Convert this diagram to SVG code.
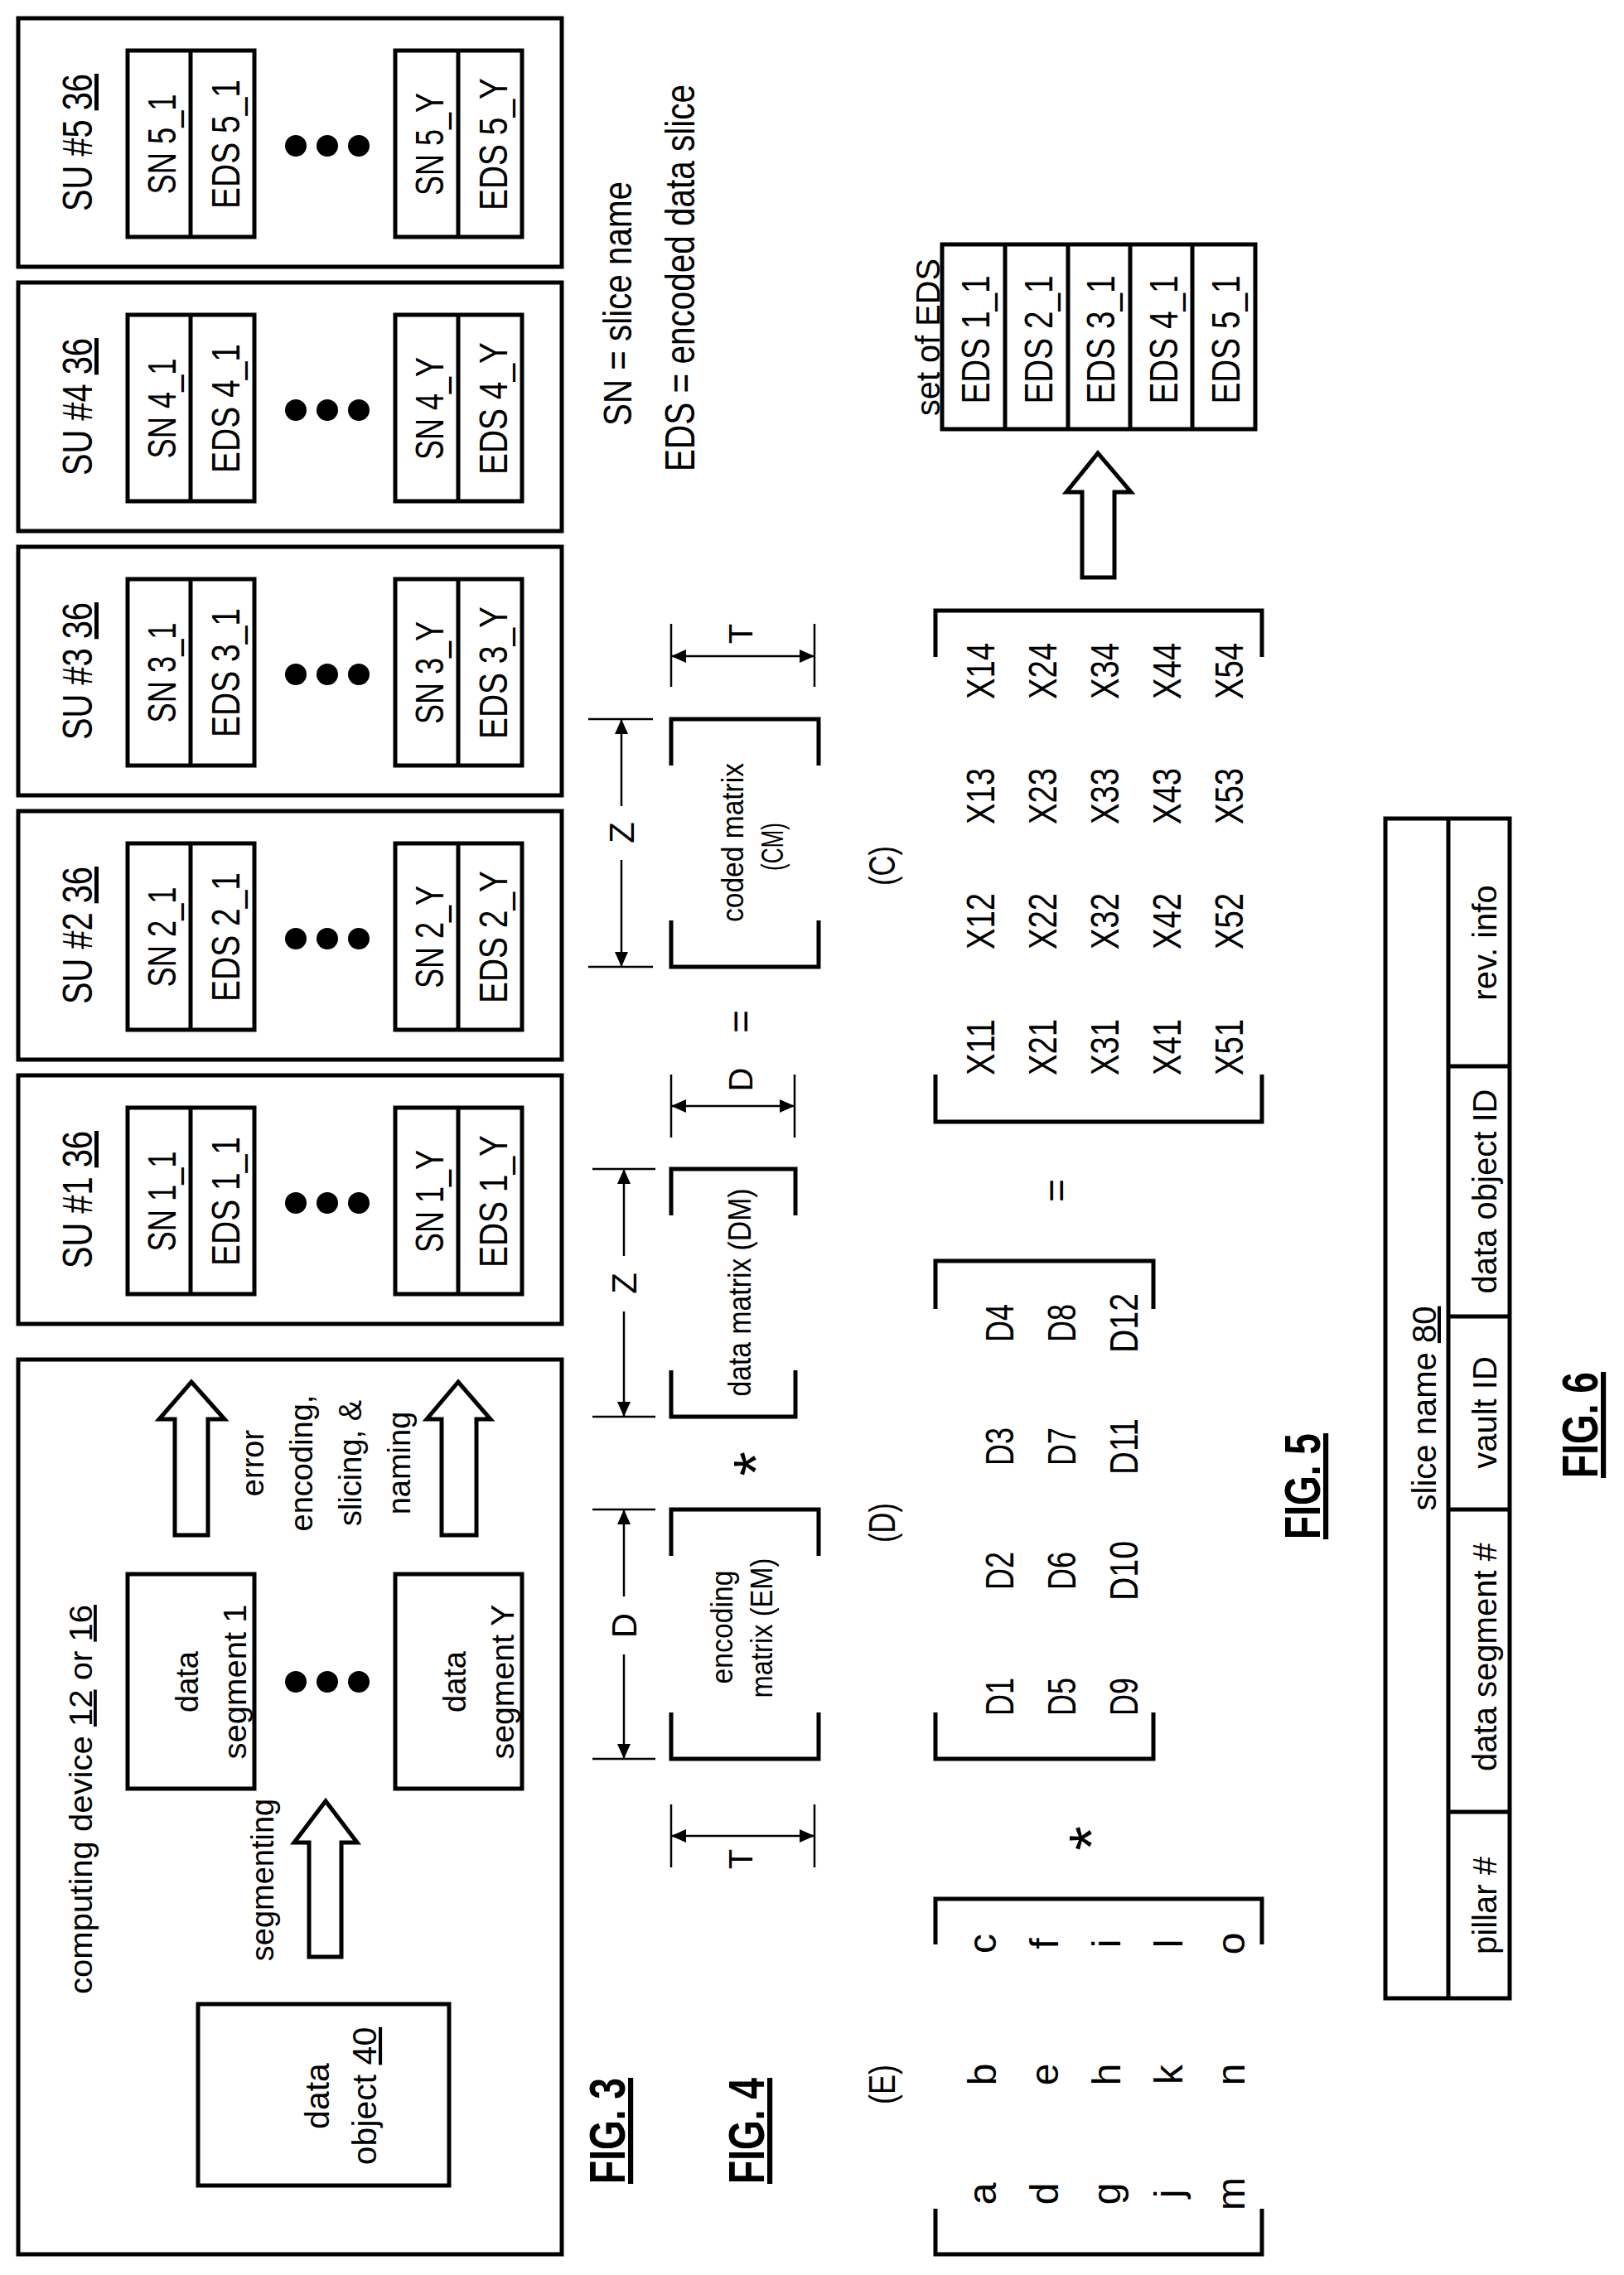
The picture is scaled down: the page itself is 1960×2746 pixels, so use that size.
<svg xmlns="http://www.w3.org/2000/svg" width="1960" height="2746" viewBox="0 0 1960 2746">
<style>
text{font-family:"Liberation Sans",Arial,sans-serif;fill:#000;text-anchor:middle}
.s{text-anchor:start}
.b{font-weight:bold}
.box{fill:#fff;stroke:#000;stroke-width:5}
.ln{fill:none;stroke:#000;stroke-width:5}
.dim{fill:none;stroke:#000;stroke-width:2.5}
.dot{fill:#000}
</style>
<defs>
<marker id="ah" markerUnits="userSpaceOnUse" markerWidth="20" markerHeight="16" refX="18" refY="8" orient="auto-start-reverse"><path d="M0,0 L18,8 L0,16 z" fill="#000"/></marker>
</defs>
<rect width="1960" height="2746" fill="#fff"/>

<!-- FIG 3 computing device -->
<g id="computing-device">
<rect class="box" x="22" y="1641" width="656" height="1080"/>
<text x="111" y="2172" font-size="38" transform="rotate(-90 111 2172)" textLength="470" lengthAdjust="spacingAndGlyphs">computing device <tspan text-decoration="underline">12</tspan> or <tspan text-decoration="underline">16</tspan></text>
</g>
<g id="data-object">
<rect class="box" x="239" y="2419" width="303" height="219"/>
<text x="397" y="2530" font-size="41" transform="rotate(-90 397 2530)">data</text>
<text x="454" y="2530" font-size="41" transform="rotate(-90 454 2530)">object <tspan text-decoration="underline">40</tspan></text>
</g>
<g id="data-segment-1">
<rect class="box" x="154" y="1900" width="153" height="259"/>
<text x="239" y="2030" font-size="38" transform="rotate(-90 239 2030)">data</text>
<text x="297" y="2030" font-size="38" transform="rotate(-90 297 2030)" textLength="187" lengthAdjust="spacingAndGlyphs">segment 1</text>
</g>
<g id="data-segment-Y">
<rect class="box" x="477" y="1900" width="153" height="259"/>
<text x="562" y="2030" font-size="38" transform="rotate(-90 562 2030)">data</text>
<text x="620" y="2030" font-size="38" transform="rotate(-90 620 2030)" textLength="187" lengthAdjust="spacingAndGlyphs">segment Y</text>
</g>
<g id="fig3-dots">
<circle class="dot" cx="357" cy="2030" r="13"/><circle class="dot" cx="395" cy="2030" r="13"/><circle class="dot" cx="433" cy="2030" r="13"/>
</g>
<g id="connectors">
<polygon class="box" points="373,2362 373,2224 355,2224 393,2174 431,2224 412,2224 412,2362"/>
<polygon class="box" points="211,1853 211,1713 192,1713 231,1668 271,1713 251,1713 251,1853"/>
<polygon class="box" points="533,1853 533,1713 515,1713 553,1668 592,1713 575,1713 575,1853"/>
<polygon class="box" points="1306,697 1306,594 1287,594 1325,547 1365,594 1345,594 1345,697"/>
</g>
<g id="labels-fig3">
<text x="330" y="2269" font-size="38" transform="rotate(-90 330 2269)">segmenting</text>
<text x="318" y="1766" font-size="38" transform="rotate(-90 318 1766)">error</text>
<text x="377" y="1766" font-size="38" transform="rotate(-90 377 1766)">encoding,</text>
<text x="436" y="1766" font-size="38" transform="rotate(-90 436 1766)">slicing, &amp;</text>
<text x="495" y="1766" font-size="38" transform="rotate(-90 495 1766)">naming</text>
</g>

<!-- SU boxes -->
<g id="su5">
<rect class="box" x="22" y="22" width="656" height="300"/>
<rect class="box" x="154" y="61" width="153" height="225"/><line class="ln" x1="230" y1="61" x2="230" y2="286"/>
<rect class="box" x="477" y="61" width="153" height="225"/><line class="ln" x1="553" y1="61" x2="553" y2="286"/>
<text x="111" y="172" font-size="50" transform="rotate(-90 111 172)" textLength="166" lengthAdjust="spacingAndGlyphs">SU #5 <tspan text-decoration="underline">36</tspan></text>
<text x="212" y="174" font-size="49" transform="rotate(-90 212 174)" textLength="121" lengthAdjust="spacingAndGlyphs">SN 5_1</text>
<text x="289" y="174" font-size="49" transform="rotate(-90 289 174)" textLength="156" lengthAdjust="spacingAndGlyphs">EDS 5_1</text>
<text x="535" y="174" font-size="49" transform="rotate(-90 535 174)" textLength="124" lengthAdjust="spacingAndGlyphs">SN 5_Y</text>
<text x="612" y="174" font-size="49" transform="rotate(-90 612 174)" textLength="160" lengthAdjust="spacingAndGlyphs">EDS 5_Y</text>
<circle class="dot" cx="357" cy="176" r="13"/><circle class="dot" cx="395" cy="176" r="13"/><circle class="dot" cx="433" cy="176" r="13"/>
</g>
<g id="su4">
<rect class="box" x="22" y="341" width="656" height="300"/>
<rect class="box" x="154" y="380" width="153" height="225"/><line class="ln" x1="230" y1="380" x2="230" y2="605"/>
<rect class="box" x="477" y="380" width="153" height="225"/><line class="ln" x1="553" y1="380" x2="553" y2="605"/>
<text x="111" y="491" font-size="50" transform="rotate(-90 111 491)" textLength="166" lengthAdjust="spacingAndGlyphs">SU #4 <tspan text-decoration="underline">36</tspan></text>
<text x="212" y="493" font-size="49" transform="rotate(-90 212 493)" textLength="121" lengthAdjust="spacingAndGlyphs">SN 4_1</text>
<text x="289" y="493" font-size="49" transform="rotate(-90 289 493)" textLength="156" lengthAdjust="spacingAndGlyphs">EDS 4_1</text>
<text x="535" y="493" font-size="49" transform="rotate(-90 535 493)" textLength="124" lengthAdjust="spacingAndGlyphs">SN 4_Y</text>
<text x="612" y="493" font-size="49" transform="rotate(-90 612 493)" textLength="160" lengthAdjust="spacingAndGlyphs">EDS 4_Y</text>
<circle class="dot" cx="357" cy="495" r="13"/><circle class="dot" cx="395" cy="495" r="13"/><circle class="dot" cx="433" cy="495" r="13"/>
</g>
<g id="su3">
<rect class="box" x="22" y="660" width="656" height="300"/>
<rect class="box" x="154" y="699" width="153" height="225"/><line class="ln" x1="230" y1="699" x2="230" y2="924"/>
<rect class="box" x="477" y="699" width="153" height="225"/><line class="ln" x1="553" y1="699" x2="553" y2="924"/>
<text x="111" y="810" font-size="50" transform="rotate(-90 111 810)" textLength="166" lengthAdjust="spacingAndGlyphs">SU #3 <tspan text-decoration="underline">36</tspan></text>
<text x="212" y="812" font-size="49" transform="rotate(-90 212 812)" textLength="121" lengthAdjust="spacingAndGlyphs">SN 3_1</text>
<text x="289" y="812" font-size="49" transform="rotate(-90 289 812)" textLength="156" lengthAdjust="spacingAndGlyphs">EDS 3_1</text>
<text x="535" y="812" font-size="49" transform="rotate(-90 535 812)" textLength="124" lengthAdjust="spacingAndGlyphs">SN 3_Y</text>
<text x="612" y="812" font-size="49" transform="rotate(-90 612 812)" textLength="160" lengthAdjust="spacingAndGlyphs">EDS 3_Y</text>
<circle class="dot" cx="357" cy="814" r="13"/><circle class="dot" cx="395" cy="814" r="13"/><circle class="dot" cx="433" cy="814" r="13"/>
</g>
<g id="su2">
<rect class="box" x="22" y="979" width="656" height="300"/>
<rect class="box" x="154" y="1018" width="153" height="225"/><line class="ln" x1="230" y1="1018" x2="230" y2="1243"/>
<rect class="box" x="477" y="1018" width="153" height="225"/><line class="ln" x1="553" y1="1018" x2="553" y2="1243"/>
<text x="111" y="1129" font-size="50" transform="rotate(-90 111 1129)" textLength="166" lengthAdjust="spacingAndGlyphs">SU #2 <tspan text-decoration="underline">36</tspan></text>
<text x="212" y="1131" font-size="49" transform="rotate(-90 212 1131)" textLength="121" lengthAdjust="spacingAndGlyphs">SN 2_1</text>
<text x="289" y="1131" font-size="49" transform="rotate(-90 289 1131)" textLength="156" lengthAdjust="spacingAndGlyphs">EDS 2_1</text>
<text x="535" y="1131" font-size="49" transform="rotate(-90 535 1131)" textLength="124" lengthAdjust="spacingAndGlyphs">SN 2_Y</text>
<text x="612" y="1131" font-size="49" transform="rotate(-90 612 1131)" textLength="160" lengthAdjust="spacingAndGlyphs">EDS 2_Y</text>
<circle class="dot" cx="357" cy="1133" r="13"/><circle class="dot" cx="395" cy="1133" r="13"/><circle class="dot" cx="433" cy="1133" r="13"/>
</g>
<g id="su1">
<rect class="box" x="22" y="1298" width="656" height="300"/>
<rect class="box" x="154" y="1337" width="153" height="225"/><line class="ln" x1="230" y1="1337" x2="230" y2="1562"/>
<rect class="box" x="477" y="1337" width="153" height="225"/><line class="ln" x1="553" y1="1337" x2="553" y2="1562"/>
<text x="111" y="1448" font-size="50" transform="rotate(-90 111 1448)" textLength="166" lengthAdjust="spacingAndGlyphs">SU #1 <tspan text-decoration="underline">36</tspan></text>
<text x="212" y="1450" font-size="49" transform="rotate(-90 212 1450)" textLength="121" lengthAdjust="spacingAndGlyphs">SN 1_1</text>
<text x="289" y="1450" font-size="49" transform="rotate(-90 289 1450)" textLength="156" lengthAdjust="spacingAndGlyphs">EDS 1_1</text>
<text x="535" y="1450" font-size="49" transform="rotate(-90 535 1450)" textLength="124" lengthAdjust="spacingAndGlyphs">SN 1_Y</text>
<text x="612" y="1450" font-size="49" transform="rotate(-90 612 1450)" textLength="160" lengthAdjust="spacingAndGlyphs">EDS 1_Y</text>
<circle class="dot" cx="357" cy="1452" r="13"/><circle class="dot" cx="395" cy="1452" r="13"/><circle class="dot" cx="433" cy="1452" r="13"/>
</g>

<!-- legend -->
<g id="legend">
<text class="s" x="762" y="514" font-size="49" transform="rotate(-90 762 514)" textLength="295" lengthAdjust="spacingAndGlyphs">SN = slice name</text>
<text class="s" x="838" y="569" font-size="50" transform="rotate(-90 838 569)" textLength="467" lengthAdjust="spacingAndGlyphs">EDS = encoded data slice</text>
</g>

<!-- figure titles -->
<g id="fig-titles">
<text class="b" x="754" y="2572" font-size="62" transform="rotate(-90 754 2572)" textLength="128" lengthAdjust="spacingAndGlyphs" text-decoration="underline">FIG. 3</text>
<text class="b" x="922" y="2572" font-size="62" transform="rotate(-90 922 2572)" textLength="128" lengthAdjust="spacingAndGlyphs" text-decoration="underline">FIG. 4</text>
<text class="b" x="1593" y="1794" font-size="62" transform="rotate(-90 1593 1794)" textLength="128" lengthAdjust="spacingAndGlyphs" text-decoration="underline">FIG. 5</text>
<text class="b" x="1928" y="1720" font-size="62" transform="rotate(-90 1928 1720)" textLength="128" lengthAdjust="spacingAndGlyphs" text-decoration="underline">FIG. 6</text>
</g>

<!-- FIG 4 -->
<g id="em-matrix">
<path class="ln" d="M810,1878 V1822 H988 V1878 M810,2067 V2123 H988 V2067"/>
<text x="884" y="1964" font-size="36" transform="rotate(-90 884 1964)" textLength="137" lengthAdjust="spacingAndGlyphs">encoding</text>
<text x="932" y="1965" font-size="36" transform="rotate(-90 932 1965)" textLength="169" lengthAdjust="spacingAndGlyphs">matrix (EM)</text>
</g>
<g id="dm-matrix">
<path class="ln" d="M810,1467 V1411 H960 V1467 M810,1654 V1710 H960 V1654"/>
<text x="906" y="1560" font-size="38" transform="rotate(-90 906 1560)" textLength="251" lengthAdjust="spacingAndGlyphs">data matrix (DM)</text>
</g>
<g id="cm-matrix">
<path class="ln" d="M810,924 V868 H988 V924 M810,1111 V1167 H988 V1111"/>
<text x="897" y="1017" font-size="36" transform="rotate(-90 897 1017)" textLength="192" lengthAdjust="spacingAndGlyphs">coded matrix</text>
<text x="945" y="1022" font-size="36" transform="rotate(-90 945 1022)" textLength="58" lengthAdjust="spacingAndGlyphs">(CM)</text>
</g>
<g id="dimensions">
<path class="dim" d="M715,1822 H791 M715,2123 H791 M715,1411 H791 M715,1710 H791 M710,868 H788 M710,1167 H788"/>
<line class="dim" x1="753" y1="1927" x2="753" y2="1822" marker-end="url(#ah)"/>
<line class="dim" x1="753" y1="1997" x2="753" y2="2123" marker-end="url(#ah)"/>
<line class="dim" x1="753" y1="1516" x2="753" y2="1411" marker-end="url(#ah)"/>
<line class="dim" x1="753" y1="1583" x2="753" y2="1710" marker-end="url(#ah)"/>
<line class="dim" x1="750" y1="973" x2="750" y2="868" marker-end="url(#ah)"/>
<line class="dim" x1="750" y1="1038" x2="750" y2="1167" marker-end="url(#ah)"/>
<path class="dim" d="M810,2178 V2254 M983,2178 V2254 M810,1297 V1373 M959,1297 V1373 M810,753 V829 M983,753 V829"/>
<line class="dim" x1="810" y1="2216" x2="983" y2="2216" marker-start="url(#ah)" marker-end="url(#ah)"/>
<line class="dim" x1="810" y1="1335" x2="959" y2="1335" marker-start="url(#ah)" marker-end="url(#ah)"/>
<line class="dim" x1="810" y1="792" x2="983" y2="792" marker-start="url(#ah)" marker-end="url(#ah)"/>
<text x="768" y="1962" font-size="42" transform="rotate(-90 768 1962)">D</text>
<text x="768" y="1549" font-size="42" transform="rotate(-90 768 1549)">Z</text>
<text x="765" y="1005" font-size="42" transform="rotate(-90 765 1005)">Z</text>
<text x="908" y="2244" font-size="40" transform="rotate(-90 908 2244)">T</text>
<text x="908" y="1303" font-size="40" transform="rotate(-90 908 1303)">D</text>
<text x="908" y="765" font-size="40" transform="rotate(-90 908 765)">T</text>
</g>
<g id="operators">
<text x="938" y="1767" font-size="76" transform="rotate(-90 938 1767)">*</text>
<text x="910" y="1233" font-size="48" transform="rotate(-90 910 1233)">=</text>
<text x="1343" y="2219" font-size="76" transform="rotate(-90 1343 2219)">*</text>
<text x="1291" y="1437" font-size="48" transform="rotate(-90 1291 1437)">=</text>
<text x="1080" y="2516" font-size="44" transform="rotate(-90 1080 2516)" textLength="48" lengthAdjust="spacingAndGlyphs">(E)</text>
<text x="1080" y="1838" font-size="44" transform="rotate(-90 1080 1838)" textLength="48" lengthAdjust="spacingAndGlyphs">(D)</text>
<text x="1080" y="1045" font-size="44" transform="rotate(-90 1080 1045)" textLength="48" lengthAdjust="spacingAndGlyphs">(C)</text>
</g>

<!-- FIG 5 matrices -->
<g id="e-matrix" font-size="48">
<path class="ln" d="M1129,2347 V2292 H1523 V2347 M1129,2666 V2721 H1523 V2666"/>
<text x="1202" y="2648" transform="rotate(-90 1202 2648)">a</text><text x="1202" y="2504" transform="rotate(-90 1202 2504)">b</text><text x="1202" y="2346" transform="rotate(-90 1202 2346)">c</text>
<text x="1277" y="2648" transform="rotate(-90 1277 2648)">d</text><text x="1277" y="2504" transform="rotate(-90 1277 2504)">e</text><text x="1277" y="2346" transform="rotate(-90 1277 2346)">f</text>
<text x="1352" y="2648" transform="rotate(-90 1352 2648)">g</text><text x="1352" y="2504" transform="rotate(-90 1352 2504)">h</text><text x="1352" y="2346" transform="rotate(-90 1352 2346)">i</text>
<text x="1427" y="2648" transform="rotate(-90 1427 2648)">j</text><text x="1427" y="2504" transform="rotate(-90 1427 2504)">k</text><text x="1427" y="2346" transform="rotate(-90 1427 2346)">l</text>
<text x="1502" y="2648" transform="rotate(-90 1502 2648)">m</text><text x="1502" y="2504" transform="rotate(-90 1502 2504)">n</text><text x="1502" y="2346" transform="rotate(-90 1502 2346)">o</text>
</g>
<g id="d-matrix" font-size="48">
<path class="ln" d="M1129,1580 V1522 H1392 V1580 M1129,2067 V2123 H1392 V2067"/>
<text x="1223" y="2048" transform="rotate(-90 1223 2048)" textLength="46" lengthAdjust="spacingAndGlyphs">D1</text>
<text x="1223" y="1896" transform="rotate(-90 1223 1896)" textLength="46" lengthAdjust="spacingAndGlyphs">D2</text>
<text x="1223" y="1746" transform="rotate(-90 1223 1746)" textLength="46" lengthAdjust="spacingAndGlyphs">D3</text>
<text x="1223" y="1597" transform="rotate(-90 1223 1597)" textLength="46" lengthAdjust="spacingAndGlyphs">D4</text>
<text x="1298" y="2048" transform="rotate(-90 1298 2048)" textLength="46" lengthAdjust="spacingAndGlyphs">D5</text>
<text x="1298" y="1896" transform="rotate(-90 1298 1896)" textLength="46" lengthAdjust="spacingAndGlyphs">D6</text>
<text x="1298" y="1746" transform="rotate(-90 1298 1746)" textLength="46" lengthAdjust="spacingAndGlyphs">D7</text>
<text x="1298" y="1597" transform="rotate(-90 1298 1597)" textLength="46" lengthAdjust="spacingAndGlyphs">D8</text>
<text x="1373" y="2048" transform="rotate(-90 1373 2048)" textLength="46" lengthAdjust="spacingAndGlyphs">D9</text>
<text x="1373" y="1896" transform="rotate(-90 1373 1896)" textLength="72" lengthAdjust="spacingAndGlyphs">D10</text>
<text x="1373" y="1746" transform="rotate(-90 1373 1746)" textLength="68" lengthAdjust="spacingAndGlyphs">D11</text>
<text x="1373" y="1597" transform="rotate(-90 1373 1597)" textLength="72" lengthAdjust="spacingAndGlyphs">D12</text>
</g>
<g id="x-matrix" font-size="48">
<path class="ln" d="M1129,793 V737 H1523 V793 M1129,1297 V1354 H1523 V1297"/>
<text x="1200" y="1264" transform="rotate(-90 1200 1264)" textLength="68" lengthAdjust="spacingAndGlyphs">X11</text>
<text x="1200" y="1112" transform="rotate(-90 1200 1112)" textLength="68" lengthAdjust="spacingAndGlyphs">X12</text>
<text x="1200" y="961" transform="rotate(-90 1200 961)" textLength="68" lengthAdjust="spacingAndGlyphs">X13</text>
<text x="1200" y="810" transform="rotate(-90 1200 810)" textLength="68" lengthAdjust="spacingAndGlyphs">X14</text>
<text x="1275" y="1264" transform="rotate(-90 1275 1264)" textLength="68" lengthAdjust="spacingAndGlyphs">X21</text>
<text x="1275" y="1112" transform="rotate(-90 1275 1112)" textLength="68" lengthAdjust="spacingAndGlyphs">X22</text>
<text x="1275" y="961" transform="rotate(-90 1275 961)" textLength="68" lengthAdjust="spacingAndGlyphs">X23</text>
<text x="1275" y="810" transform="rotate(-90 1275 810)" textLength="68" lengthAdjust="spacingAndGlyphs">X24</text>
<text x="1350" y="1264" transform="rotate(-90 1350 1264)" textLength="68" lengthAdjust="spacingAndGlyphs">X31</text>
<text x="1350" y="1112" transform="rotate(-90 1350 1112)" textLength="68" lengthAdjust="spacingAndGlyphs">X32</text>
<text x="1350" y="961" transform="rotate(-90 1350 961)" textLength="68" lengthAdjust="spacingAndGlyphs">X33</text>
<text x="1350" y="810" transform="rotate(-90 1350 810)" textLength="68" lengthAdjust="spacingAndGlyphs">X34</text>
<text x="1425" y="1264" transform="rotate(-90 1425 1264)" textLength="68" lengthAdjust="spacingAndGlyphs">X41</text>
<text x="1425" y="1112" transform="rotate(-90 1425 1112)" textLength="68" lengthAdjust="spacingAndGlyphs">X42</text>
<text x="1425" y="961" transform="rotate(-90 1425 961)" textLength="68" lengthAdjust="spacingAndGlyphs">X43</text>
<text x="1425" y="810" transform="rotate(-90 1425 810)" textLength="68" lengthAdjust="spacingAndGlyphs">X44</text>
<text x="1500" y="1264" transform="rotate(-90 1500 1264)" textLength="68" lengthAdjust="spacingAndGlyphs">X51</text>
<text x="1500" y="1112" transform="rotate(-90 1500 1112)" textLength="68" lengthAdjust="spacingAndGlyphs">X52</text>
<text x="1500" y="961" transform="rotate(-90 1500 961)" textLength="68" lengthAdjust="spacingAndGlyphs">X53</text>
<text x="1500" y="810" transform="rotate(-90 1500 810)" textLength="68" lengthAdjust="spacingAndGlyphs">X54</text>
</g>
<g id="set-of-eds">
<rect class="box" x="1137" y="295" width="378" height="223"/>
<path class="ln" d="M1213,295 V518 M1289,295 V518 M1364,295 V518 M1439,295 V518"/>
<text x="1134" y="407" font-size="40" transform="rotate(-90 1134 407)" textLength="190" lengthAdjust="spacingAndGlyphs">set of EDS</text>
<text x="1194" y="410" font-size="49" transform="rotate(-90 1194 410)" textLength="155" lengthAdjust="spacingAndGlyphs">EDS 1_1</text>
<text x="1270" y="410" font-size="49" transform="rotate(-90 1270 410)" textLength="155" lengthAdjust="spacingAndGlyphs">EDS 2_1</text>
<text x="1345" y="410" font-size="49" transform="rotate(-90 1345 410)" textLength="155" lengthAdjust="spacingAndGlyphs">EDS 3_1</text>
<text x="1421" y="410" font-size="49" transform="rotate(-90 1421 410)" textLength="155" lengthAdjust="spacingAndGlyphs">EDS 4_1</text>
<text x="1496" y="410" font-size="49" transform="rotate(-90 1496 410)" textLength="155" lengthAdjust="spacingAndGlyphs">EDS 5_1</text>
</g>

<!-- FIG 6 -->
<g id="slice-name">
<rect class="box" x="1672" y="988" width="150" height="1424"/>
<path class="ln" d="M1748,988 V2412 M1748,1287 H1822 M1748,1589 H1822 M1748,1822 H1822 M1748,2187 H1822"/>
<text x="1733" y="1700" font-size="40" transform="rotate(-90 1733 1700)">slice name <tspan text-decoration="underline">80</tspan></text>
<text x="1806" y="1138" font-size="40" transform="rotate(-90 1806 1138)">rev. info</text>
<text x="1806" y="1438" font-size="40" transform="rotate(-90 1806 1438)">data object ID</text>
<text x="1806" y="1705" font-size="40" transform="rotate(-90 1806 1705)">vault ID</text>
<text x="1806" y="2000" font-size="40" transform="rotate(-90 1806 2000)">data segment #</text>
<text x="1806" y="2300" font-size="40" transform="rotate(-90 1806 2300)">pillar #</text>
</g>
</svg>
